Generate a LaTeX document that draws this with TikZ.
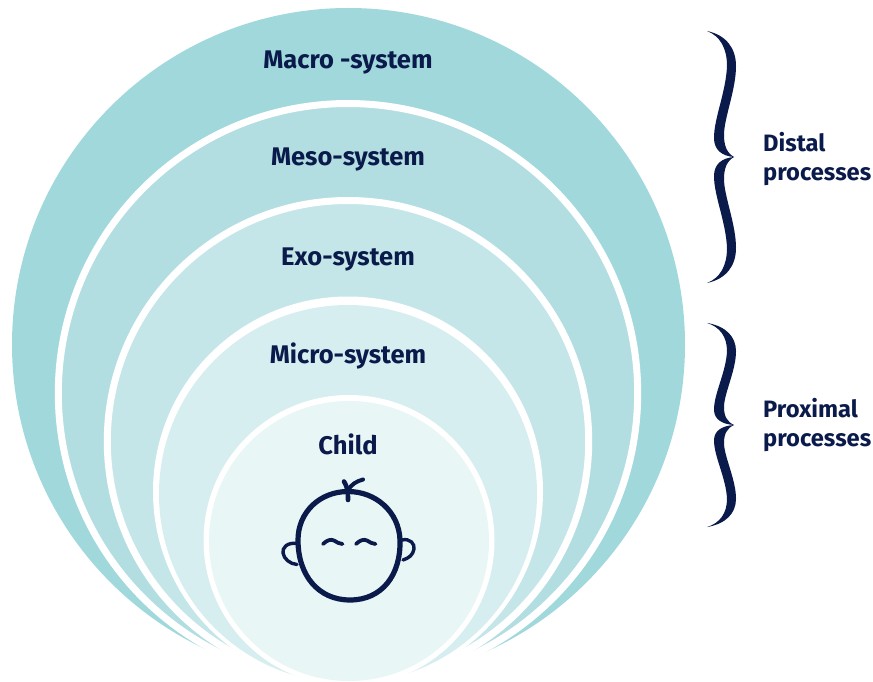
\documentclass[tikz,border=0pt]{standalone}
\usepackage{fontspec}
\setmainfont{Fira Sans}
\definecolor{macroc}{HTML}{A0D8DC}
\definecolor{mesoc}{HTML}{B3DEE1}
\definecolor{exoc}{HTML}{C5E6E8}
\definecolor{microc}{HTML}{D6EEEF}
\definecolor{childc}{HTML}{E9F6F6}
\definecolor{navy}{HTML}{0A1A4A}
\tikzset{
  ring/.style={draw=white,line width=7pt},
  lbl/.style={text=navy,font=\bfseries\fontsize{25.5}{30}\selectfont,inner sep=0pt,anchor=base},
  sidelbl/.style={text=navy,font=\bfseries\fontsize{23.7}{29.5}\selectfont,inner sep=0pt,align=left,anchor=west},
  babyline/.style={draw=navy,line cap=round,line join=round},
  bracehalf/.pic={
    \fill[navy] (-27,-126) .. controls (-8,-122) and (2,-109) .. (2,-91)
      .. controls (2,-67) and (-10,-39) .. (-10,-22)
      .. controls (-10,-11) and (-7,-4) .. (0,0)
      .. controls (-12,-1) and (-20,-7) .. (-20,-19)
      .. controls (-20,-39) and (-8,-65) .. (-7,-91)
      .. controls (-7,-109) and (-14,-121) .. (-27,-126) -- cycle;
  }
}
\begin{document}
\begin{tikzpicture}[x=1pt,y=-1pt]
\useasboundingbox (0,0) rectangle (873,682);
\clip (0,0) rectangle (873,682);
\fill[macroc] (348.5,344.5) circle[radius=336.5];
\path[ring,fill=mesoc] (348,393.2) circle[radius=289.7];
\path[ring,fill=exoc] (348,441.2) circle[radius=240.7];
\fill[white] (348,491.5) circle[radius=195];
\fill[microc] (348,494) circle[radius=189];
\fill[white] (349,540.5) circle[radius=145.5];
\fill[childc] (349,541) circle[radius=140];

\node[lbl] (macro) at (348,69) {Macro -system};
\node[lbl] (meso) at (348,165) {Meso-system};
\node[lbl] (exo) at (348,265) {Exo-system};
\node[lbl] (micro) at (348,363) {Micro-system};
\node[lbl] (child) at (348,454) {Child};

% baby
\draw[babyline,line width=5.2pt] (348,491.5)
  .. controls (320,491.5) and (298,512) .. (298,540)
  .. controls (298,575) and (318,600) .. (350,600)
  .. controls (382,600) and (401,575) .. (400,540)
  .. controls (399,512) and (376,491.5) .. (348,491.5) -- cycle;
\draw[babyline,line width=4.6pt] (348,500) .. controls (348,494) and (348,488) .. (344,481.5);
\draw[babyline,line width=4pt] (348,490) .. controls (352,484) and (356,481.5) .. (363,479.5);
\draw[babyline,line width=3.4pt] (297,543.5) .. controls (287,542) and (282,548) .. (283,553) .. controls (284,559) and (290,564) .. (297,564.5);
\draw[babyline,line width=3.4pt] (402,540) .. controls (410,538) and (415,544) .. (414,549) .. controls (413,555) and (409,558) .. (403,560);
\draw[babyline,line width=3.8pt] (323,544) .. controls (327,540) and (331,539) .. (334,540.5) .. controls (337,542) and (339,544) .. (342.5,544);
\draw[babyline,line width=3.8pt] (356,544) .. controls (360,540) and (364,539) .. (367,540.5) .. controls (370,542) and (372,544) .. (375.5,544);

% braces
\pic[xshift=734pt,yshift=-157pt] at (0,0) {bracehalf};
\pic[xshift=734pt,yshift=-157pt,yscale=-1] at (0,0) {bracehalf};
\pic[xshift=734pt,yshift=-425pt,yscale=.81] at (0,0) {bracehalf};
\pic[xshift=734pt,yshift=-425pt,yscale=-.81] at (0,0) {bracehalf};

\node[sidelbl] (distal) at (763,159) {Distal\\processes};
\node[sidelbl] (proximal) at (763,425) {Proximal\\processes};
\end{tikzpicture}
\end{document}
